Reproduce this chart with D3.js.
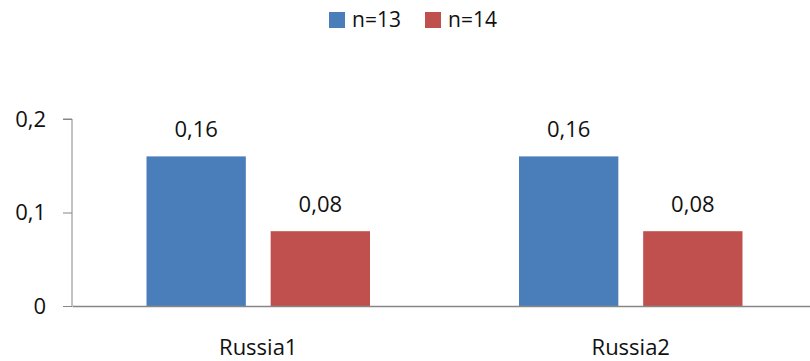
<!DOCTYPE html>
<html>
<head>
<meta charset="utf-8">
<script src="https://cdn.jsdelivr.net/npm/d3@7"></script>
<style>
  html, body { margin: 0; padding: 0; background: #fff; }
  svg { display: block; font-family: "Open Sans", sans-serif; }
</style>
</head>
<body>
<svg id="chart" width="810" height="361"></svg>
<script>
// Chart data
const categories = ["Russia1", "Russia2"];
const seriesNames = ["n=13", "n=14"];
const seriesValues = [
  [0.16, 0.16],   // n=13
  [0.08, 0.08]    // n=14
];
const yTicks = [0, 0.1, 0.2];
const colors = ["#4A7EBB", "#C0504D"];

const fmt = v => d3.format(".2~f")(v).replace(".", ",");

const svg = d3.select("#chart");
const margin = { left: 72, right: -7, top: 119, bottom: 55 };
const W = 810, H = 361;
const plotW = W - margin.left - margin.right;
const plotH = H - margin.top - margin.bottom;

const x0 = d3.scaleBand().domain(categories)
  .range([margin.left, margin.left + plotW]).paddingInner(0).paddingOuter(0);
const x1 = d3.scaleBand().domain(seriesNames)
  .range([0, x0.bandwidth()]).paddingInner(0.2).paddingOuter(0.6);
const y = d3.scaleLinear().domain([0, 0.2]).range([margin.top + plotH, margin.top]);

// Bars and value labels
categories.forEach((cat, ci) => {
  const g = svg.append("g").attr("transform", `translate(${x0(cat)},0)`);
  seriesNames.forEach((s, si) => {
    const v = seriesValues[si][ci];
    g.append("rect")
      .attr("x", x1(s))
      .attr("y", y(v))
      .attr("width", x1.bandwidth())
      .attr("height", y(0) - y(v))
      .attr("fill", colors[si]);
    g.append("text")
      .attr("x", x1(s) + x1.bandwidth() / 2)
      .attr("y", y(v) - 19)
      .attr("text-anchor", "middle")
      .attr("font-size", 22)
      .attr("fill", "#111")
      .text(fmt(v));
  });
});

// Y axis
const yAxis = d3.axisLeft(y).tickValues(yTicks).tickSize(9).tickPadding(17).tickFormat(fmt);
const ya = svg.append("g").attr("transform", `translate(${margin.left},0)`).call(yAxis);
ya.select(".domain").attr("stroke", "#868686").attr("d", `M-9,${y(0.2)}H0V${y(0)}`);
ya.selectAll(".tick line").attr("stroke", "#868686");
ya.selectAll(".tick text").attr("font-size", 22).attr("fill", "#111")
  .attr("font-family", "Open Sans, sans-serif");

// X axis
const xAxis = d3.axisBottom(x0).tickSize(0).tickPadding(0);
const xa = svg.append("g").attr("transform", `translate(0,${y(0)})`).call(xAxis);
xa.select(".domain").attr("stroke", "#868686").attr("stroke-width", 1.5);
xa.selectAll(".tick text").attr("font-size", 22).attr("fill", "#111")
  .attr("font-family", "Open Sans, sans-serif").attr("dy", 0).attr("y", 49);

// Legend
const legend = svg.append("g");
const legendItems = [{ x: 329 }, { x: 425 }];
seriesNames.forEach((s, i) => {
  const lx = legendItems[i].x;
  legend.append("rect").attr("x", lx).attr("y", 12).attr("width", 16).attr("height", 16).attr("fill", colors[i]);
  legend.append("text").attr("x", lx + 23).attr("y", 27).attr("font-size", 21)
    .attr("fill", "#111").text(s);
});
</script>
</body>
</html>
